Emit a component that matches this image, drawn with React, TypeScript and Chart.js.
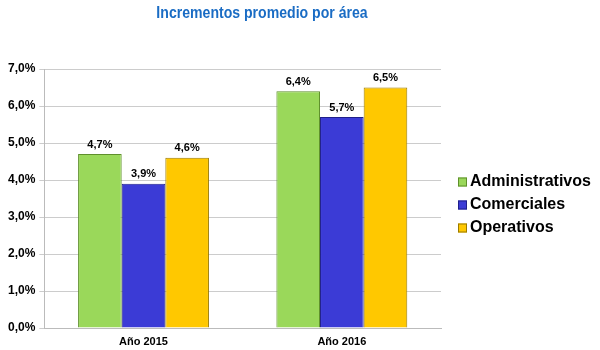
import React, { useEffect, useRef } from "react";
import { Chart, registerables } from "chart.js";

Chart.register(...registerables);

const titleText = "Incrementos promedio por área";
const categories = ["Año 2015", "Año 2016"];
const seriesNames = ["Administrativos", "Comerciales", "Operativos"];
const administrativos = [4.7, 6.4];
const comerciales = [3.9, 5.7];
const operativos = [4.6, 6.5];
const colors = ["#9ad85a", "#3b3bd6", "#ffc800"];
const borders = ["#5f8f2c", "#1f1f8a", "#9a7a00"];

const fmt = (v: number) => v.toFixed(1).replace(".", ",") + "%";
const FONT = "'Liberation Sans', Arial, sans-serif";

const decorPlugin = {
  id: "decor",
  afterDatasetsDraw(chart: any) {
    const ctx = chart.ctx;
    ctx.save();
    ctx.font = `bold 11px ${FONT}`;
    ctx.fillStyle = "#000";
    ctx.textAlign = "center";
    ctx.textBaseline = "bottom";
    chart.data.datasets.forEach((ds: any, i: number) => {
      const meta = chart.getDatasetMeta(i);
      meta.data.forEach((el: any, j: number) => {
        ctx.fillText(fmt(ds.data[j]), el.x, el.y - 4);
      });
    });
    ctx.restore();
  },
  afterDraw(chart: any) {
    const ctx = chart.ctx;
    // title
    ctx.save();
    ctx.font = `bold 16px ${FONT}`;
    ctx.fillStyle = "#1a6cc4";
    ctx.textAlign = "center";
    ctx.textBaseline = "middle";
    ctx.translate(262, 14);
    ctx.scale(0.88, 1);
    ctx.fillText(titleText, 0, 0);
    ctx.restore();
    // legend
    ctx.save();
    ctx.font = `bold 16px ${FONT}`;
    ctx.textBaseline = "middle";
    ctx.textAlign = "left";
    chart.data.datasets.forEach((ds: any, i: number) => {
      const y = 182 + i * 23;
      ctx.fillStyle = ds.backgroundColor;
      ctx.fillRect(458, y - 4.5, 9, 9);
      ctx.strokeStyle = ds.borderColor;
      ctx.lineWidth = 1;
      ctx.strokeRect(458.5, y - 4, 8, 8);
      ctx.fillStyle = "#000";
      ctx.fillText(ds.label, 470, y);
    });
    ctx.restore();
  },
};

export default function App() {
  const ref = useRef<HTMLCanvasElement>(null);
  useEffect(() => {
    const data = [administrativos, comerciales, operativos];
    const chart = new Chart(ref.current!, {
      type: "bar",
      data: {
        labels: categories,
        datasets: seriesNames.map((n, i) => ({
          label: n,
          data: data[i],
          backgroundColor: colors[i],
          borderColor: borders[i],
          borderWidth: 1,
          categoryPercentage: 0.66,
          barPercentage: 1,
        })),
      },
      options: {
        animation: false,
        responsive: false,
        layout: { padding: { left: 4, right: 159, top: 69, bottom: 0 } },
        plugins: {
          title: { display: false },
          legend: { display: false },
          tooltip: { enabled: false },
        },
        scales: {
          x: {
            grid: { display: false, drawTicks: false },
            border: { color: "#bbbbbb" },
            ticks: { color: "#000", padding: 7, font: { family: FONT, size: 11, weight: "bold" } },
            afterFit: (s: any) => { s.height = 22; },
          },
          y: {
            min: 0,
            max: 7,
            ticks: {
              stepSize: 1,
              color: "#000",
              padding: 4,
              font: { family: FONT, size: 12, weight: "bold" },
              callback: (v: any) => fmt(Number(v)),
            },
            grid: { color: "#cccccc", tickLength: 5 },
            border: { color: "#bbbbbb" },
          },
        },
      },
      plugins: [decorPlugin],
    });
    return () => chart.destroy();
  }, []);
  return (
    <div style={{ position: "fixed", left: 0, top: 0, width: 600, height: 350, background: "#fff" }}>
      <canvas ref={ref} width={600} height={350} />
    </div>
  );
}
